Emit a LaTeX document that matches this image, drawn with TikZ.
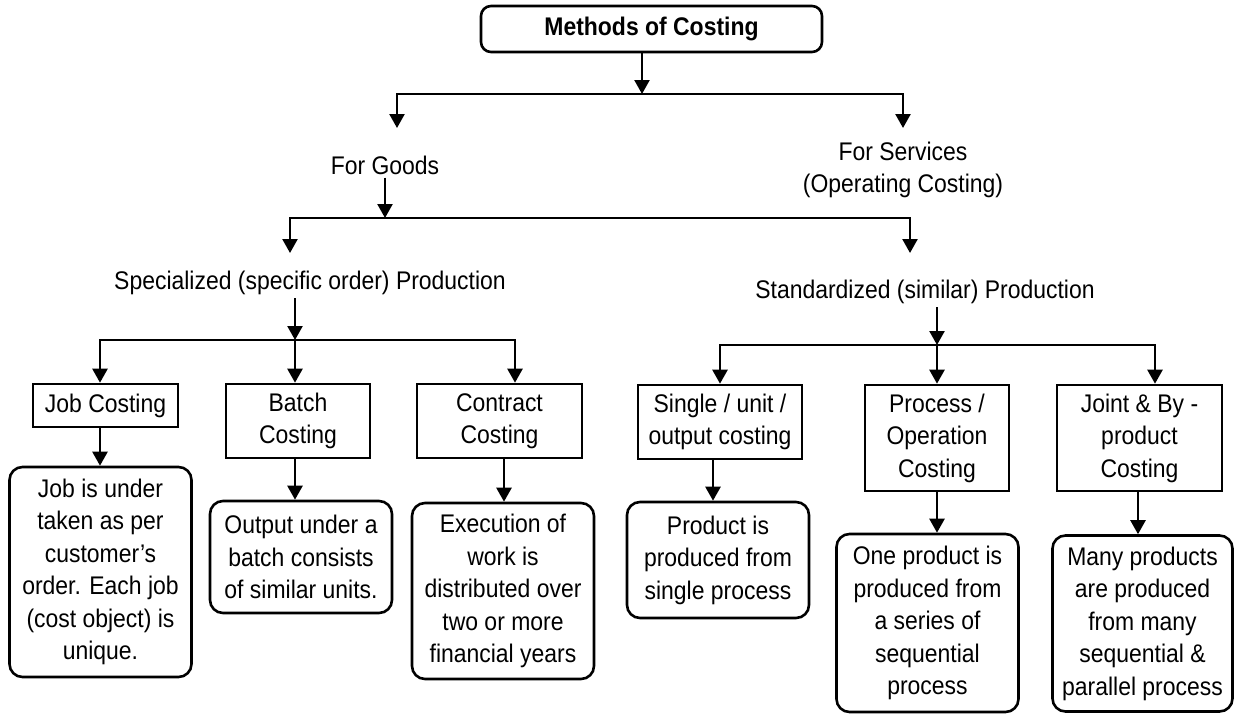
\documentclass[tikz,border=0pt]{standalone}
\usepackage{fontspec}
\setmainfont{Liberation Sans}[FakeStretch=0.9]
\usetikzlibrary{arrows.meta}
\begin{document}
\begin{tikzpicture}[x=1pt,y=-1pt,
  txt/.style={font=\fontsize{25.5}{32.5}\selectfont, align=center, inner sep=3pt},
  titlebox/.style={txt, font=\fontsize{25.5}{32.5}\selectfont\bfseries, draw, line width=2.6pt, rounded corners=10pt, minimum width=341pt, minimum height=46pt},
  lblbox/.style={txt, draw, line width=2.6pt, inner sep=0pt},
  descbox/.style={txt, draw, line width=2.6pt, rounded corners=13pt, inner sep=0pt},
  conn/.style={line width=2.4pt, line cap=rect},
  arr/.style={line width=2.4pt, -{Triangle[width=15pt,length=14pt]}}]
\useasboundingbox (0,0) rectangle (1234,715);

% top
\node[titlebox] (m) at (651.5,29) {Methods of Costing};
\node[txt] (goods) at (385,165) {For Goods};
\node[txt] (serv) at (903,170) {For Services\\(Operating Costing)};
\node[txt] (spec) at (310,283) {Specialized (specific order) Production};
\node[txt] (std) at (925,292) {Standardized (similar) Production};

% label boxes
\node[lblbox, minimum width=145pt, minimum height=43pt] (job) at (105.5,405.5) {Job Costing};
\node[lblbox, minimum width=144pt, minimum height=74pt] (batch) at (298,421) {Batch\\Costing};
\node[lblbox, minimum width=165pt, minimum height=74pt] (contract) at (499.5,421) {Contract\\Costing};
\node[lblbox, minimum width=164pt, minimum height=74pt] (single) at (720,422) {Single / unit /\\output costing};
\node[lblbox, minimum width=144pt, minimum height=106pt] (process) at (937,438) {Process /\\Operation\\Costing};
\node[lblbox, minimum width=165pt, minimum height=106pt] (joint) at (1139.5,438) {Joint \& By -\\product\\Costing};

% description boxes
\node[descbox, minimum width=182pt, minimum height=210pt] (jobd) at (100.5,572) {Job is under\\taken as per\\customer's\\order. Each job\\(cost object) is\\unique.};
\node[descbox, minimum width=182pt, minimum height=112pt] (batchd) at (301,557) {Output under a\\batch consists\\of similar units.};
\node[descbox, minimum width=182pt, minimum height=176pt] (contractd) at (503,591) {Execution of\\work is\\distributed over\\two or more\\financial years};
\node[descbox, minimum width=182pt, minimum height=116pt] (singled) at (718,560) {Product is\\produced from\\single process};
\node[descbox, minimum width=182pt, minimum height=178pt] (processd) at (927.5,623) {One product is\\produced from\\a series of\\sequential\\process};
\node[descbox, minimum width=180pt, minimum height=176pt] (jointd) at (1142.5,623.5) {Many products\\are produced\\from many\\sequential \&\\parallel process};

% level 1
\coordinate (j1) at (642,94);
\coordinate (j1l) at (397,94);
\coordinate (j1r) at (903,94);
\coordinate (e1l) at (397,128);
\coordinate (e1r) at (903,128);
\draw[arr] (m.south -| j1) -- (j1);
\draw[conn] (j1l) -- (j1r);
\draw[arr] (j1l) -- (e1l);
\draw[arr] (j1r) -- (e1r);

% level 2
\coordinate (j2) at (385,218);
\coordinate (j2l) at (290,218);
\coordinate (j2r) at (910,218);
\coordinate (e2l) at (290,253);
\coordinate (e2r) at (910,253);
\draw[arr] (goods.south) -- (j2);
\draw[conn] (j2l) -- (j2r);
\draw[arr] (j2l) -- (e2l);
\draw[arr] (j2r) -- (e2r);

% level 3 left
\coordinate (j3) at (295,340);
\coordinate (j3l) at (100,340);
\coordinate (j3r) at (515,340);
\draw[arr] (spec.south -| j3) -- (j3);
\draw[conn] (j3l) -- (j3r);
\draw[arr] (j3l) -- (job.north -| j3l);
\draw[arr] (j3) -- (batch.north -| j3);
\draw[arr] (j3r) -- (contract.north -| j3r);

% level 3 right
\coordinate (j4) at (937,345);
\coordinate (j4l) at (720,345);
\coordinate (j4r) at (1155,345);
\draw[arr] (std.south -| j4) -- (j4);
\draw[conn] (j4l) -- (j4r);
\draw[arr] (j4l) -- (single.north -| j4l);
\draw[arr] (j4) -- (process.north -| j4);
\draw[arr] (j4r) -- (joint.north -| j4r);

% box to description
\coordinate (k1) at (100,0);
\coordinate (k2) at (295,0);
\coordinate (k3) at (504,0);
\coordinate (k4) at (713,0);
\coordinate (k5) at (937,0);
\coordinate (k6) at (1138,0);
\draw[arr] (job.south -| k1) -- (jobd.north -| k1);
\draw[arr] (batch.south -| k2) -- (batchd.north -| k2);
\draw[arr] (contract.south -| k3) -- (contractd.north -| k3);
\draw[arr] (single.south -| k4) -- (singled.north -| k4);
\draw[arr] (process.south -| k5) -- (processd.north -| k5);
\draw[arr] (joint.south -| k6) -- (jointd.north -| k6);
\end{tikzpicture}
\end{document}
